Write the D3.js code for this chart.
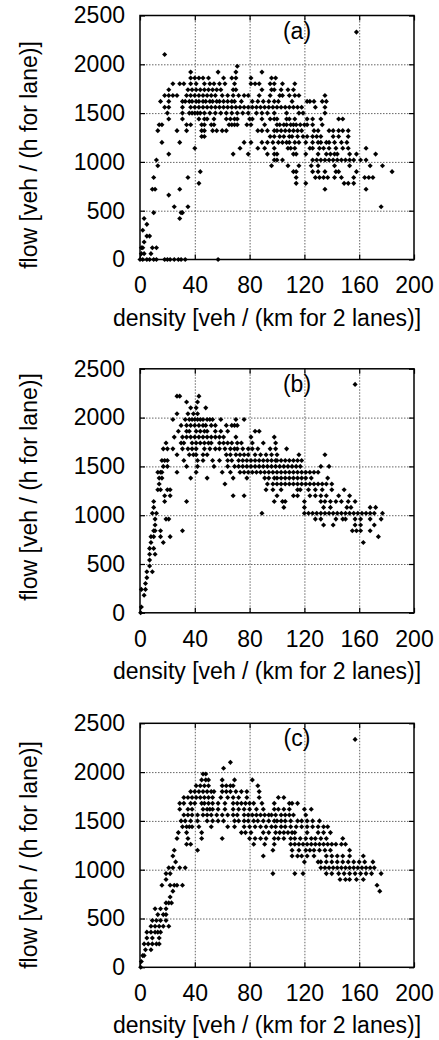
<!DOCTYPE html>
<html>
<head>
<meta charset="utf-8">
<script src="https://cdn.jsdelivr.net/npm/d3@7"></script>
<style>
  html, body { margin: 0; padding: 0; background: #fff; }
  svg { display: block; }
</style>
</head>
<body>
<script>
// ---- Data ----
const xTicks = [0, 40, 80, 120, 160, 200];
const yTicks = [0, 500, 1000, 1500, 2000, 2500];
const panelLabels = ["(a)", "(b)", "(c)"];
const xTitle = "density [veh / (km for 2 lanes)]";
const yTitle = "flow [veh / (h for lane)]";

// rows: [flow, [densities...]]
const rowsA = [
  [2330,[158]],
  [2100,[18]],
  [1980,[71]],
  [1920,[37,57,70,89]],
  [1860,[37,40,43,46,50,61,67,70,81,96,99]],
  [1800,[24,29,32,37,41,47,51,54,58,62,69,81,84,87,95,98,104,113]],
  [1740,[21,35,38,41,44,47,50,53,56,59,68,70,89,96,98,103,108,112]],
  [1680,[18,21,24,27,34,37,40,43,46,49,52,55,60,64,68,72,76,79,87,95,102,104,109,113,116,135]],
  [1620,[15,21,31,33,36,38,41,43,46,48,51,53,56,58,61,64,67,69,74,82,86,90,94,98,101,111,122,124,127,133,136]],
  [1560,[18,21,31,37,40,43,46,49,52,55,58,61,64,67,70,73,76,79,82,85,88,91,94,97,100,103,106,109,112,115,118,128,135]],
  [1500,[20,31,36,38,40,42,44,47,51,55,59,63,67,71,75,79,85,89,93,98,107,116,119,135]],
  [1440,[21,31,43,47,49,54,63,66,69,71,80,82,89,95,98,100,107,109,113,122,126,132,145,148]],
  [1380,[14,16,34,37,45,47,52,54,65,67,69,71,78,81,91,100,102,105,107,110,112,114,117,120,122,126,133]],
  [1320,[13,27,34,45,47,53,56,60,63,86,89,93,98,100,103,106,109,112,115,118,127,130,138,141,145,148,152]],
  [1260,[45,47,95,98,102,105,109,111,115,119,122,126,129,132,141,145,152]],
  [1200,[16,29,76,81,89,93,97,101,104,107,109,113,116,121,126,130,132,136,138,142,147,151]],
  [1140,[40,73,86,91,98,108,110,113,124,126,131,134,138,143,148,152,165]],
  [1080,[21,68,79,93,98,100,112,114,121,130,136,139,142,144,153,158,172]],
  [1020,[12,98,100,104,126,129,132,135,138,141,144,147,150,153,156,161,165]],
  [960,[13,96,108,116,125,130,142,153,168,177]],
  [900,[44,112,114,126,130,135,143,145,158,184]],
  [840,[10,35,114,128,131,134,137,142,147,156,164,167,170]],
  [780,[43,114,121,149,152,156]],
  [720,[9,11,29,135,165]],
  [660,[21]],
  [540,[25,35,176]],
  [480,[10,30,31]],
  [420,[3,29]],
  [360,[5]],
  [300,[2]],
  [240,[5,7]],
  [180,[3]],
  [120,[1,2,9,12]],
  [60,[1,3,8]],
  [0,[0,2,5,7,10,12,18,20,22,25,28,30,33,57]]
];

const rowsB = [
  [2340,[157]],
  [2220,[27,29,43]],
  [2160,[34,42]],
  [2100,[37,41,48]],
  [2040,[27,35,39,42]],
  [1980,[24,33,36,38,40,42,44,46,49,51,53,59,70,76]],
  [1920,[30,34,37,40,43,46,48,52,55,63,67,69,71]],
  [1860,[28,34,36,41,44,47,49,55,59,64,84,87]],
  [1800,[25,31,34,37,40,43,46,49,52,55,58,61,70,81,98]],
  [1740,[19,30,32,38,41,44,47,50,52,58,61,64,67,71,74,82,90,99]],
  [1680,[17,20,24,31,35,38,41,47,51,55,58,62,66,69,71,75,79,82,86,95,99,107]],
  [1620,[27,36,39,41,46,49,63,66,70,73,76,79,84,88,92,96,100,116,135]],
  [1560,[16,18,20,32,42,46,53,58,64,67,72,75,78,81,84,87,90,93,96,99,100,103,106,109,112,115,118]],
  [1500,[17,20,34,42,54,64,69,72,75,78,81,84,87,90,93,96,99,102,105,108,111,114,117,132,138]],
  [1440,[13,15,16,27,41,60,66,73,76,79,82,85,88,91,94,97,100,103,106,109,112,115,118,121,124,127,130]],
  [1380,[14,16,37,49,68,78,91,94,98,100,103,106,109,112,115,118,121,125,137]],
  [1320,[14,62,93,97,100,103,106,109,112,115,118,121,124,127,130,133,136,140]],
  [1260,[13,15,20,22,92,97,103,115,117,123,128,133,140,149]],
  [1200,[18,22,68,76,100,112,115,124,128,132,136,145,153]],
  [1140,[10,18,34,98,104,106,120,132,135,139,143,147,152,157]],
  [1080,[10,105,120,134,139,151,154,168,172]],
  [1020,[9,12,89,120,123,126,129,132,135,138,141,144,147,150,153,156,159,162,165,168,171,177]],
  [960,[11,19,21,128,132,143,148,150,157,161,168,176]],
  [900,[11,134,141,157,161,171]],
  [840,[10,11,15,31,155,158,161,168]],
  [780,[8,10,15,22,174]],
  [720,[8,17,163]],
  [660,[7,10]],
  [600,[7,11]],
  [540,[7]],
  [480,[7]],
  [420,[5,9]],
  [360,[5]],
  [300,[4]],
  [240,[1,4]],
  [180,[3]],
  [60,[1]],
  [0,[0.5]]
];

const rowsC = [
  [2335,[157]],
  [2100,[66]],
  [2040,[61]],
  [1980,[46,48]],
  [1920,[45,48,50,60,69,82]],
  [1860,[41,44,47,50,60,63,66,68,86]],
  [1800,[37,40,43,46,49,52,54,60,63,66,70,74,78,87]],
  [1740,[32,35,38,41,44,47,50,53,59,64,68,72,78,87,101,105]],
  [1680,[29,32,37,40,45,47,50,53,57,62,68,71,74,77,80,83,89,98,109,111,115]],
  [1620,[29,35,38,46,49,51,53,57,62,68,72,76,80,85,90,98,101,105,109,120,125]],
  [1560,[32,35,38,42,46,49,52,56,60,64,68,71,76,79,82,85,88,91,94,96,99,103,106,109,112,121]],
  [1500,[30,33,37,42,49,53,57,61,69,72,76,79,83,86,90,94,98,100,103,106,110,115,118,122,126,131]],
  [1440,[31,34,36,38,43,52,64,69,76,80,84,88,92,96,99,103,106,110,114,118,122,126,130,134,137]],
  [1380,[28,34,45,74,77,81,90,94,99,102,105,108,111,113,122,130,134,139]],
  [1320,[27,35,45,60,80,84,88,92,98,101,105,110,113,117,121,125,128,132,136,148]],
  [1260,[34,37,83,91,98,110,113,116,119,122,125,128,131,134,137,140,143,147,150]],
  [1200,[25,42,97,111,116,121,124,127,131,135,139,153]],
  [1140,[24,90,111,115,118,122,127,136,140,144,148,153,163]],
  [1080,[26,120,130,132,136,140,144,148,152,156,160,164,170]],
  [1020,[21,24,29,33,132,135,138,141,144,147,150,153,156,159,162,165,168,171]],
  [960,[19,22,97,113,119,136,140,145,149,153,157,161,165,169,176]],
  [900,[19,146,150,153,158,163]],
  [840,[16,22,25,27,31,173]],
  [780,[24,175]],
  [720,[22]],
  [660,[19,21,23]],
  [600,[11,15,19]],
  [540,[13,17,19]],
  [480,[9,12,15,19]],
  [420,[8,11,14,17,21]],
  [360,[5,8,11,13,15]],
  [300,[5,9,14]],
  [240,[3,6,9,12,14]],
  [180,[4,8]],
  [120,[2,3]],
  [60,[1]],
  [0,[0.5]]
];

// ---- Layout ----
const W = 439, H = 1040;
const plotLeft = 140, plotRight = 414, plotH = 244;
const panelTop = [15.5, 368.8, 723.3];
const yTitleCenter = [155, 487, 855];
const FONT = "'Liberation Sans', Arial, Helvetica, sans-serif";
const FS = 23;

const svg = d3.select("body").append("svg")
  .attr("width", W).attr("height", H)
  .style("background", "#fff");

const x = d3.scaleLinear().domain([0, 200]).range([plotLeft, plotRight]);

[rowsA, rowsB, rowsC].forEach((rows, i) => {
  const top = panelTop[i], bottom = top + plotH;
  const y = d3.scaleLinear().domain([0, 2500]).range([bottom, top]);
  const g = svg.append("g");

  const points = rows.flatMap(([flow, dens]) => dens.map(d => ({ density: d, flow })));

  // grid
  g.append("g").attr("transform", `translate(0,${bottom})`)
    .call(d3.axisBottom(x).tickValues(xTicks.slice(1, -1)).tickSize(-plotH).tickFormat(""))
    .call(s => s.select(".domain").remove())
    .selectAll("line").attr("stroke", "#666").attr("stroke-width", 1).attr("stroke-dasharray", "1.5,1.5");
  g.append("g").attr("transform", `translate(${plotLeft},0)`)
    .call(d3.axisLeft(y).tickValues(yTicks.slice(1, -1)).tickSize(-(plotRight - plotLeft)).tickFormat(""))
    .call(s => s.select(".domain").remove())
    .selectAll("line").attr("stroke", "#666").attr("stroke-width", 1).attr("stroke-dasharray", "1.5,1.5");

  // points
  const sym = d3.symbol(d3.symbolSquare, 13);
  g.append("g").selectAll("path").data(points).join("path")
    .attr("d", sym)
    .attr("transform", d => `translate(${x(d.density)},${y(d.flow)}) rotate(45)`)
    .attr("fill", "#000");

  // frame
  g.append("rect").attr("x", plotLeft).attr("y", top)
    .attr("width", plotRight - plotLeft).attr("height", plotH)
    .attr("fill", "none").attr("stroke", "#000").attr("stroke-width", 1.5);

  // axes with inward ticks
  const styleAxis = s => {
    s.select(".domain").remove();
    s.attr("font-family", FONT).attr("font-size", FS);
    s.selectAll("line").attr("stroke", "#000").attr("stroke-width", 1.2);
    s.selectAll("text").attr("fill", "#000");
  };
  const fmt = d3.format("d");
  g.append("g").attr("transform", `translate(0,${bottom})`)
    .call(d3.axisBottom(x).tickValues(xTicks).tickFormat(fmt).tickSizeInner(-5).tickSizeOuter(0).tickPadding(17.5))
    .call(styleAxis);
  g.append("g").attr("transform", `translate(0,${top})`)
    .call(d3.axisTop(x).tickValues(xTicks).tickSizeInner(-5).tickSizeOuter(0).tickFormat(""))
    .call(styleAxis);
  g.append("g").attr("transform", `translate(${plotLeft},0)`)
    .call(d3.axisLeft(y).tickValues(yTicks).tickFormat(fmt).tickSizeInner(-5).tickSizeOuter(0).tickPadding(15))
    .call(styleAxis);
  g.append("g").attr("transform", `translate(${plotRight},0)`)
    .call(d3.axisRight(y).tickValues(yTicks).tickSizeInner(-5).tickSizeOuter(0).tickFormat(""))
    .call(styleAxis);

  // titles
  g.append("text").attr("x", 267).attr("y", bottom + 66)
    .attr("text-anchor", "middle").attr("font-family", FONT).attr("font-size", FS)
    .attr("fill", "#000").text(xTitle);
  g.append("text").attr("transform", `translate(37,${yTitleCenter[i]}) rotate(-90)`)
    .attr("text-anchor", "middle").attr("font-family", FONT).attr("font-size", FS)
    .attr("fill", "#000").text(yTitle);
  g.append("text").attr("x", 297).attr("y", top + 23)
    .attr("text-anchor", "middle").attr("font-family", FONT).attr("font-size", FS)
    .attr("fill", "#000").text(panelLabels[i]);
});
</script>
</body>
</html>
